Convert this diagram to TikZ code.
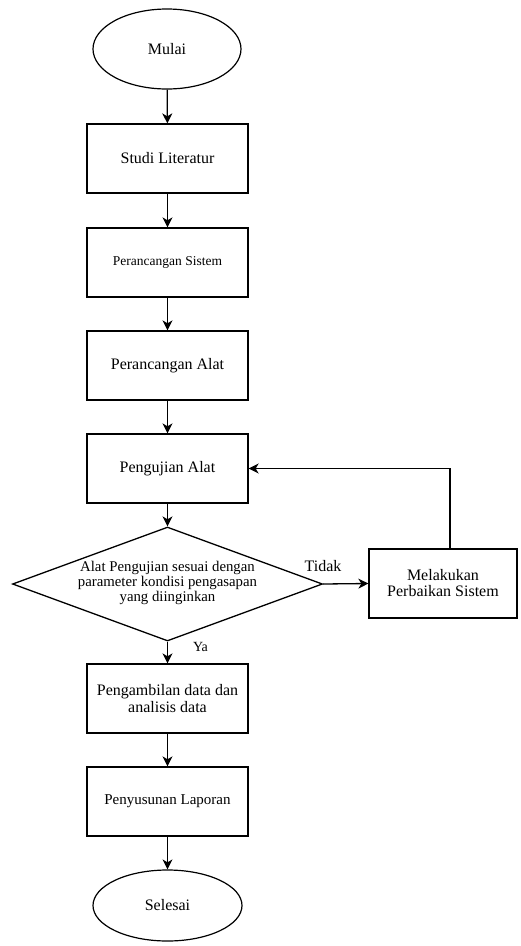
\documentclass[tikz,border=0pt]{standalone}
\usepackage{fontspec}
\setmainfont{Liberation Serif}
\usetikzlibrary{shapes.geometric,arrows.meta}
\begin{document}
\begin{tikzpicture}[x=1pt,y=-1pt,
  box/.style={draw,line width=1.3pt,minimum width=161pt,minimum height=69pt,inner sep=0pt,align=center,font=\rmfamily\fontsize{16}{17}\selectfont},
  term/.style={draw,ellipse,line width=1.2pt,minimum width=148pt,minimum height=80pt,inner sep=0pt,font=\rmfamily\fontsize{16}{17}\selectfont},
  arr/.style={line width=1.3pt,-{Stealth[length=10pt,width=10pt,inset=3pt]}},
  lbl/.style={font=\rmfamily\fontsize{16}{17}\selectfont,inner sep=0pt}]
\useasboundingbox (0,0) rectangle (520,946);
\node[term] (start) at (167,49) {Mulai};
\node[box] (s1) at (167.5,158.5) {Studi Literatur};
\node[box,font=\rmfamily\fontsize{13.5}{15}\selectfont] (s2) at (167.5,262.5) {Perancangan Sistem};
\node[box] (s3) at (167.5,365.5) {Perancangan Alat};
\node[box] (s4) at (167.5,468.5) {Pengujian Alat};
\node[draw,diamond,line width=1.3pt,minimum width=310pt,minimum height=114pt,inner sep=0pt] (dec) at (167.5,584) {};
\node[align=center,inner sep=0pt,font=\rmfamily\fontsize{14.8}{15}\selectfont] (dectext) at (167.5,583) {Alat Pengujian sesuai dengan\\parameter kondisi pengasapan\\yang diinginkan};
\node[box,minimum width=148pt] (fix) at (443,583.5) {Melakukan\\[-1pt]Perbaikan Sistem};
\node[box] (s5) at (167.5,698.5) {Pengambilan data dan\\analisis data};
\node[box,font=\rmfamily\fontsize{15}{16}\selectfont] (s6) at (167.5,801.5) {Penyusunan Laporan};
\node[term,minimum width=149pt,minimum height=71pt] (end) at (167.5,905.5) {Selesai};
\draw[arr] (start) -- (s1);
\draw[arr] (s1) -- (s2);
\draw[arr] (s2) -- (s3);
\draw[arr] (s3) -- (s4);
\draw[arr] (s4) -- (dec);
\draw[arr] (dec.east) -- (fix.west);
\draw[arr] ([xshift=7pt]fix.north) |- (s4.east);
\draw[arr] (dec.south) -- (s5);
\draw[arr] (s5) -- (s6);
\draw[arr] (s6) -- (end);
\node[lbl] (tidak) at (323,566) {Tidak};
\node[lbl,font=\rmfamily\fontsize{14}{15}\selectfont] (ya) at (200.5,647) {Ya};
\end{tikzpicture}
\end{document}
